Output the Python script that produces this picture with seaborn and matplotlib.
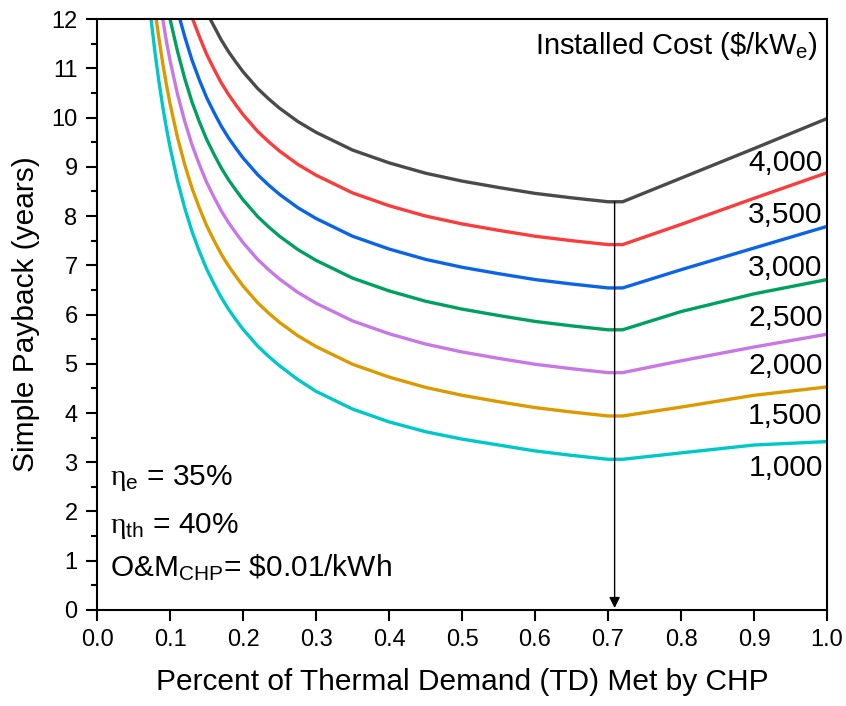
import matplotlib
matplotlib.use("Agg")
import matplotlib.pyplot as plt
from matplotlib.ticker import MultipleLocator, FormatStrFormatter
import pandas as pd
import seaborn as sns

# Fraction of thermal demand met by CHP vs. simple payback, one curve per installed cost
cost_labels = ["1,000", "1,500", "2,000", "2,500", "3,000", "3,500", "4,000"]
line_colors = ["#00c8c8", "#dc9a00", "#c878e6", "#00a060", "#0a64e6", "#fa3c3c", "#4a4a4a"]

td_1000 = [0.074, 0.075, 0.08, 0.085, 0.09, 0.095, 0.10, 0.11, 0.12, 0.13, 0.14, 0.15, 0.16, 0.17, 0.18,
           0.19, 0.20, 0.22, 0.235, 0.25, 0.275, 0.30, 0.35, 0.40, 0.45, 0.50, 0.55, 0.60, 0.65, 0.70,
           0.72, 0.80, 0.90, 1.00]
pb_1000 = [12.0, 11.87, 11.25, 10.71, 10.22, 9.79, 9.40, 8.73, 8.17, 7.69, 7.29, 6.93, 6.63, 6.35, 6.11,
           5.90, 5.70, 5.36, 5.15, 4.96, 4.68, 4.44, 4.08, 3.82, 3.62, 3.47, 3.35, 3.23, 3.14, 3.06,
           3.06, 3.19, 3.35, 3.42]

td_1500 = [0.081, 0.085, 0.09, 0.095, 0.10, 0.11, 0.12, 0.13, 0.14, 0.15, 0.16, 0.17, 0.18, 0.19,
           0.20, 0.22, 0.235, 0.25, 0.275, 0.30, 0.35, 0.40, 0.45, 0.50, 0.55, 0.60, 0.65, 0.70,
           0.72, 0.80, 0.90, 1.00]
pb_1500 = [12.0, 11.59, 11.10, 10.67, 10.28, 9.61, 9.05, 8.57, 8.17, 7.81, 7.51, 7.23, 6.99, 6.78,
           6.58, 6.24, 6.03, 5.84, 5.57, 5.35, 4.99, 4.73, 4.52, 4.36, 4.23, 4.11, 4.02, 3.94,
           3.94, 4.12, 4.36, 4.53]

td_2000 = [0.090, 0.095, 0.10, 0.11, 0.12, 0.13, 0.14, 0.15, 0.16, 0.17, 0.18, 0.19, 0.20, 0.22,
           0.235, 0.25, 0.275, 0.30, 0.35, 0.40, 0.45, 0.50, 0.55, 0.60, 0.65, 0.70, 0.72, 0.80,
           0.90, 1.00]
pb_2000 = [12.0, 11.55, 11.16, 10.49, 9.93, 9.45, 9.05, 8.69, 8.39, 8.11, 7.87, 7.66, 7.46, 7.12,
           6.91, 6.72, 6.45, 6.23, 5.87, 5.61, 5.40, 5.24, 5.11, 4.99, 4.90, 4.82, 4.82, 5.06,
           5.34, 5.60]

td_2500 = [0.100, 0.11, 0.12, 0.13, 0.14, 0.15, 0.16, 0.17, 0.18, 0.19, 0.20, 0.22, 0.235, 0.25,
           0.275, 0.30, 0.35, 0.40, 0.45, 0.50, 0.55, 0.60, 0.65, 0.70, 0.72, 0.80, 0.90, 1.00]
pb_2500 = [12.0, 11.36, 10.80, 10.32, 9.92, 9.56, 9.26, 8.98, 8.74, 8.53, 8.33, 7.99, 7.78, 7.59,
           7.32, 7.10, 6.74, 6.48, 6.27, 6.11, 5.98, 5.86, 5.77, 5.69, 5.69, 6.06, 6.42, 6.71]

td_3000 = [0.1135, 0.12, 0.13, 0.14, 0.15, 0.16, 0.17, 0.18, 0.19, 0.20, 0.22, 0.235, 0.25, 0.275,
           0.30, 0.35, 0.40, 0.45, 0.50, 0.55, 0.60, 0.65, 0.70, 0.72, 0.80, 0.90, 1.00]
pb_3000 = [12.0, 11.65, 11.17, 10.77, 10.41, 10.11, 9.83, 9.59, 9.38, 9.18, 8.84, 8.63, 8.44, 8.17,
           7.95, 7.59, 7.33, 7.12, 6.96, 6.83, 6.71, 6.62, 6.54, 6.54, 6.91, 7.35, 7.79]

td_3500 = [0.131, 0.14, 0.15, 0.16, 0.17, 0.18, 0.19, 0.20, 0.22, 0.235, 0.25, 0.275, 0.30, 0.35,
           0.40, 0.45, 0.50, 0.55, 0.60, 0.65, 0.70, 0.72, 0.80, 0.90, 1.00]
pb_3500 = [12.0, 11.65, 11.29, 10.99, 10.71, 10.47, 10.26, 10.06, 9.72, 9.51, 9.32, 9.05, 8.83, 8.47,
           8.21, 8.00, 7.84, 7.71, 7.59, 7.50, 7.42, 7.42, 7.83, 8.36, 8.88]

td_4000 = [0.155, 0.16, 0.17, 0.18, 0.19, 0.20, 0.22, 0.235, 0.25, 0.275, 0.30, 0.35, 0.40, 0.45,
           0.50, 0.55, 0.60, 0.65, 0.70, 0.72, 0.80, 0.90, 1.00]
pb_4000 = [12.0, 11.86, 11.58, 11.34, 11.13, 10.93, 10.59, 10.38, 10.19, 9.92, 9.70, 9.34, 9.08, 8.87,
           8.71, 8.58, 8.46, 8.37, 8.29, 8.29, 8.77, 9.37, 9.98]

# Curve label positions (baseline, years) and the optimum thermal fraction
label_y = [2.72, 3.78, 4.79, 5.77, 6.79, 7.85, 8.92]
optimum_td = 0.709
optimum_pb = 8.29

td_series = [td_1000, td_1500, td_2000, td_2500, td_3000, td_3500, td_4000]
pb_series = [pb_1000, pb_1500, pb_2000, pb_2500, pb_3000, pb_3500, pb_4000]

frames = []
for lab, tds, pbs in zip(cost_labels, td_series, pb_series):
    frames.append(pd.DataFrame({"td": tds, "payback": pbs, "cost": lab}))
df = pd.concat(frames, ignore_index=True)

sns.set_style("ticks")
plt.rcParams["font.family"] = ["Liberation Sans", "DejaVu Sans"]
plt.rcParams["mathtext.fontset"] = "custom"
plt.rcParams["mathtext.rm"] = "Liberation Sans"
plt.rcParams["mathtext.it"] = "Liberation Serif"
plt.rcParams["text.color"] = "black"
plt.rcParams["axes.labelcolor"] = "black"
plt.rcParams["xtick.color"] = "black"
plt.rcParams["ytick.color"] = "black"

fig = plt.figure(figsize=(8.46, 7.06), dpi=100)
ax = fig.add_axes([0.1147, 0.136, 0.8629, 0.837])

sns.lineplot(data=df, x="td", y="payback", hue="cost", hue_order=cost_labels,
             palette=dict(zip(cost_labels, line_colors)), sort=False, estimator=None,
             linewidth=2.4, legend=False, ax=ax)

ax.set_xlim(0, 1.0)
ax.set_ylim(0, 12)
ax.xaxis.set_major_locator(MultipleLocator(0.1))
ax.xaxis.set_major_formatter(FormatStrFormatter("%.1f"))
ax.yaxis.set_major_locator(MultipleLocator(1))
ax.yaxis.set_minor_locator(MultipleLocator(0.5))
ax.tick_params(axis="both", which="major", direction="out", length=8, width=1.5,
               labelsize=17, top=False, right=False, pad=6)
ax.tick_params(axis="y", which="minor", direction="out", length=4.5, width=1.5)
for sp in ax.spines.values():
    sp.set_linewidth(1.5)
    sp.set_color("black")

ax.set_xlabel("Percent of Thermal Demand (TD) Met by CHP", fontsize=21.5, labelpad=12)
ax.set_ylabel("Simple Payback (years)", fontsize=21.5, labelpad=8)

# Cost labels next to the right end of each curve
for lab, yv in zip(cost_labels, label_y):
    ax.text(0.994, yv, lab, ha="right", va="baseline", fontsize=21.5)
ax.text(0.988, 11.30, r"Installed Cost (\$/kW$_\mathrm{e}$)", ha="right", va="baseline", fontsize=21)

# Operating assumptions
ax.text(0.018, 2.54, r"$\eta$$_\mathrm{e}$ = 35%", ha="left", va="baseline", fontsize=21.5)
ax.text(0.018, 1.56, r"$\eta$$_\mathrm{th}$ = 40%", ha="left", va="baseline", fontsize=21.5)
ax.text(0.018, 0.68, r"O&M$_\mathrm{CHP}$= \$0.01/kWh", ha="left", va="baseline", fontsize=21.5)

# Arrow marking the optimum thermal fraction
ax.annotate("", xy=(optimum_td, 0.04), xytext=(optimum_td, optimum_pb),
            arrowprops=dict(arrowstyle="-|>", color="black", lw=1.0,
                            mutation_scale=16, shrinkA=0, shrinkB=0))

fig.savefig("out.png", dpi=100)
